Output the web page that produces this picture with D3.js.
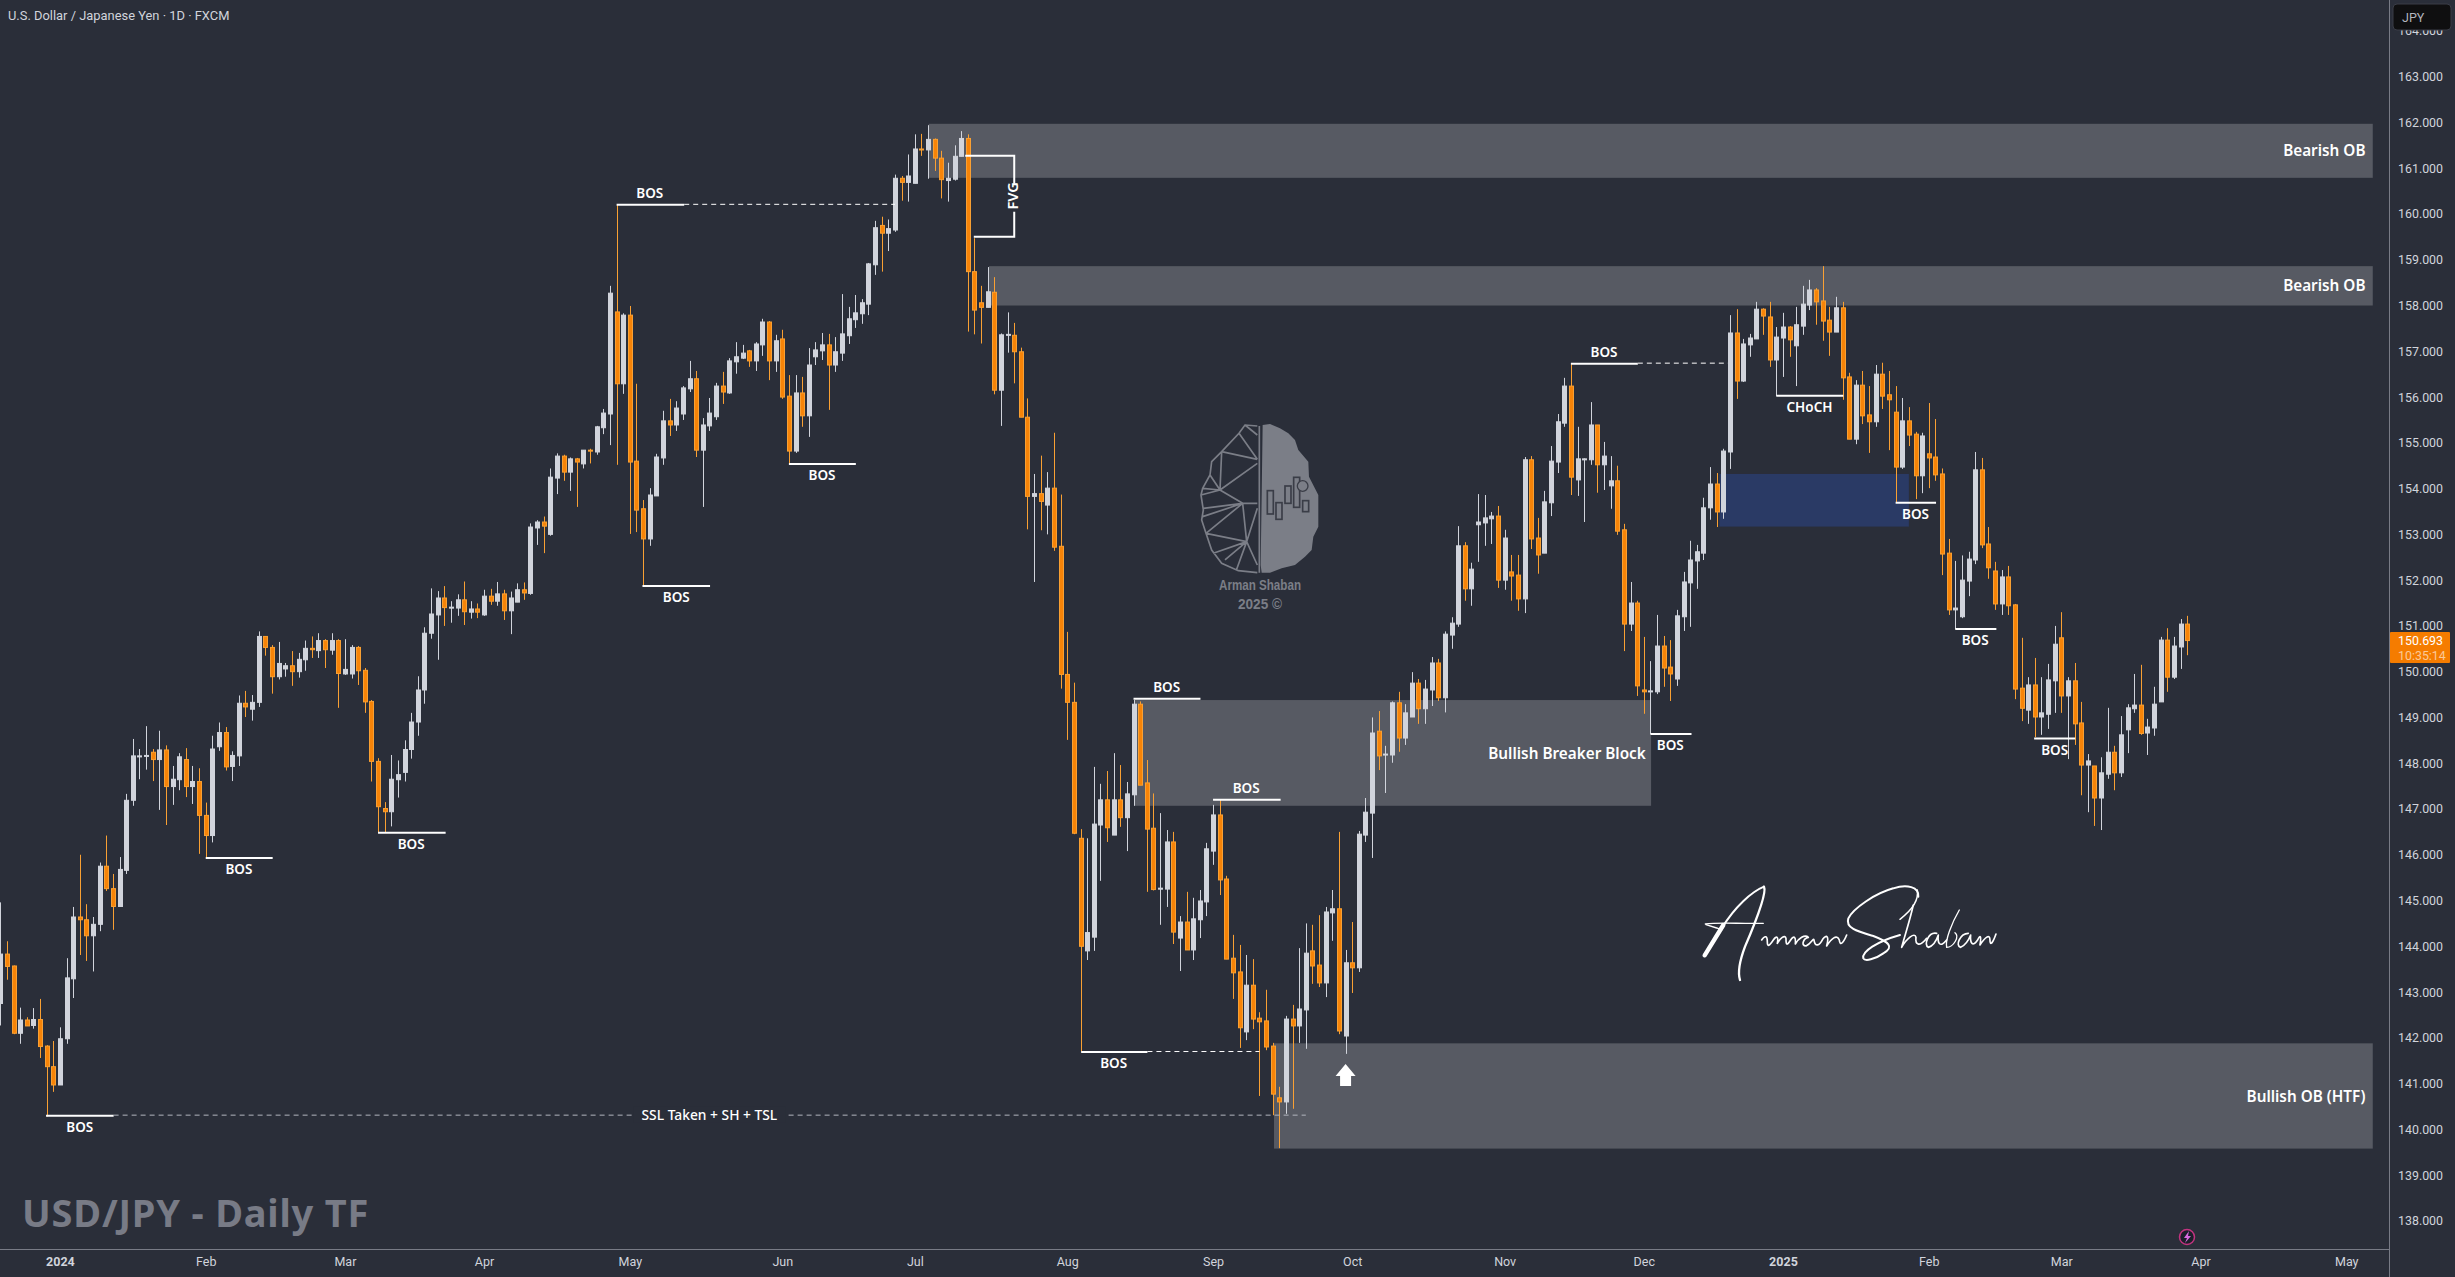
<!DOCTYPE html>
<html>
<head>
<meta charset="utf-8">
<title>USD/JPY - Daily TF</title>
<script src="https://cdn.jsdelivr.net/npm/d3@7"></script>
<style>
html, body { margin: 0; padding: 0; background: #2a2e39; overflow: hidden; }
svg { display: block; }
</style>
</head>
<body>
<div id="chart"></div>
<script>
// daily candles, index 0 is the one cut by the left edge
var opens = [
142.75,143.83,143.57,142.10,142.39,142.27,142.40,141.82,141.37,140.97,
141.98,143.29,144.64,144.58,144.23,144.48,145.75,145.26,144.87,145.66,
147.19,148.14,148.15,148.24,148.08,148.29,147.49,147.64,148.08,147.49,
147.60,146.86,146.42,148.36,148.67,147.93,148.16,149.31,149.18,149.33,
150.77,150.53,149.89,150.06,150.13,150.00,150.26,150.51,150.46,150.68,
150.47,150.68,149.95,149.95,150.53,150.03,149.35,148.04,147.01,146.94,
147.64,147.8,148.3,148.9,149.6,150.84,151.24,151.61,151.40,151.39,
151.57,151.30,151.37,151.24,151.65,151.54,151.70,151.33,151.52,151.79,
151.71,153.14,153.27,153.00,154.23,154.71,154.36,154.65,154.54,154.84,
154.80,155.33,155.63,157.86,156.29,157.79,154.60,153.56,152.90,153.84,
154.67,155.48,155.39,155.63,156.18,156.40,154.84,155.37,155.57,156.24,
156.09,156.77,156.85,157.01,156.79,157.14,157.64,156.79,157.27,156.02,
154.82,156.09,155.59,156.88,157.01,157.14,156.70,156.96,157.34,157.69,
157.82,158.03,158.89,159.75,159.58,159.65,160.78,160.69,160.67,161.42,
161.40,161.63,161.22,160.73,160.76,161.26,161.65,158.74,158.06,157.96,
158.29,156.15,157.35,157.35,156.99,155.56,153.83,153.89,153.64,154.01,
152.74,149.94,149.33,146.36,143.90,144.20,146.65,147.20,146.43,147.20,
146.81,147.31,149.29,147.57,146.58,145.26,145.25,146.28,144.18,144.53,
143.92,144.58,144.97,146.08,146.87,145.47,143.74,143.44,142.13,143.15,
142.43,142.37,141.82,140.69,140.60,142.41,142.26,142.61,143.90,143.59,
143.20,144.73,144.82,142.04,143.64,143.53,146.43,146.91,148.70,148.18,
148.18,149.32,148.55,149.01,149.75,149.19,149.60,150.19,149.43,150.80,
151.04,152.75,151.81,153.21,153.25,153.34,153.40,152.00,152.18,152.11,
151.59,154.63,152.92,152.59,153.69,154.58,155.43,156.24,154.19,154.63,
154.63,155.39,154.52,154.06,154.17,153.10,151.04,151.50,149.60,149.56,
149.56,150.56,150.10,149.84,151.20,151.94,152.42,152.59,153.58,154.10,
153.49,154.80,157.40,156.35,157.14,157.27,157.92,157.75,156.81,157.29,
157.53,157.12,157.55,158.01,158.34,158.10,157.68,157.42,157.95,156.44,
155.08,156.26,155.61,155.46,156.50,156.05,155.67,154.47,155.48,155.19,
154.28,154.76,154.69,154.32,152.59,151.35,151.20,151.98,152.44,154.41,
152.79,152.20,151.48,152.07,151.46,149.64,149.16,149.71,149.01,149.07,
149.80,150.74,149.47,149.80,148.88,147.96,147.94,147.24,147.76,148.24,
147.79,148.73,149.19,149.27,148.66,148.77,149.34,150.69,149.88,150.54,
151.04];

var highs = [
144.96,144.11,143.58,142.66,142.45,142.65,142.85,141.84,141.93,142.23,
143.74,144.86,146.00,144.92,144.64,145.83,146.42,145.58,145.95,147.33,
148.53,148.31,148.81,148.31,148.71,148.39,147.94,148.22,148.33,147.94,
147.89,147.14,148.60,148.89,148.79,148.26,149.48,149.58,149.49,150.88,
150.77,150.58,150.65,150.19,150.45,150.41,150.68,150.77,150.84,150.71,
150.84,150.71,150.71,150.58,150.56,150.08,149.38,148.11,147.15,148.18,
148.06,148.5,149.1,149.9,150.97,151.82,151.76,151.87,151.54,151.69,
151.97,151.54,151.49,151.79,151.81,151.96,151.79,151.75,151.93,151.95,
153.24,153.31,153.39,154.44,154.77,154.74,154.68,154.67,154.84,154.87,
155.37,155.74,158.43,160.20,157.83,157.99,156.29,153.75,154.01,154.76,
155.70,155.96,155.91,156.24,156.79,156.57,155.54,155.98,156.31,156.55,
156.85,157.20,157.14,157.03,157.20,157.71,157.66,157.36,157.47,156.48,
156.48,156.44,157.07,157.20,157.40,157.38,157.31,158.25,157.97,158.23,
158.14,158.93,159.85,159.94,159.88,160.86,160.83,161.30,161.74,161.75,
161.94,161.65,161.38,161.12,161.50,161.81,161.74,159.47,158.43,158.84,
158.62,157.39,157.85,157.62,157.08,155.97,154.32,154.72,154.36,155.22,
153.87,150.87,149.76,146.56,146.36,147.92,147.55,147.83,148.22,147.96,
147.59,149.38,149.35,148.07,147.34,146.91,146.54,146.50,144.66,145.19,
145.06,145.23,146.26,147.09,147.20,145.54,144.25,144.03,143.81,143.72,
142.56,143.05,141.89,140.93,142.48,142.72,143.96,144.50,144.47,144.68,
144.86,145.23,146.50,143.92,144.53,146.52,147.24,149.00,149.14,148.38,
149.35,149.56,149.29,149.99,149.84,149.82,150.32,150.28,150.88,151.19,
153.18,152.83,152.38,153.88,153.86,153.49,153.62,153.10,152.55,152.55,
154.69,154.71,153.36,153.95,154.93,155.63,156.42,156.72,155.35,154.66,
155.89,155.39,155.02,154.71,154.50,153.23,151.96,151.55,150.76,150.23,
151.24,150.78,150.69,151.35,152.18,152.86,152.77,153.80,154.47,154.34,
154.87,157.79,157.92,157.27,157.38,158.08,157.94,158.08,157.53,157.84,
157.55,157.97,158.43,158.56,158.38,158.86,157.97,158.19,158.08,156.53,
156.37,156.57,156.24,156.70,156.75,156.57,156.24,155.98,155.78,155.24,
155.22,155.87,155.52,154.44,152.90,152.42,152.54,152.62,154.80,154.67,
153.16,152.40,152.22,152.31,151.48,150.74,149.88,150.30,149.88,150.17,
151.00,151.30,149.88,150.19,149.34,148.20,147.94,148.13,149.21,148.38,
149.03,149.29,149.95,150.15,148.97,149.67,150.76,150.95,150.76,151.15,
151.22];

var lows = [
142.27,143.27,142.08,141.87,142.26,142.20,141.56,140.28,140.82,140.97,
141.87,142.87,143.81,143.68,143.45,144.33,145.21,144.36,144.87,145.58,
147.07,147.65,147.86,147.61,146.98,146.65,147.09,147.41,147.26,147.11,
146.02,145.92,146.27,148.27,147.84,147.61,147.94,149.01,148.93,149.23,
150.35,149.52,149.83,149.89,149.69,149.87,150.02,150.30,150.30,150.08,
150.37,149.21,149.93,149.85,149.71,149.10,147.60,146.48,146.48,146.62,
147.25,147.6,148.1,148.6,149.3,150.72,150.26,151.00,151.07,151.22,
151.02,151.16,151.17,151.22,151.46,151.44,151.13,150.82,151.52,151.57,
151.68,152.77,152.59,152.97,153.88,154.17,153.95,153.60,154.44,154.55,
154.74,155.19,154.95,154.52,156.07,153.01,153.05,151.87,152.75,153.84,
154.52,155.15,155.26,155.50,156.11,154.69,153.60,155.26,155.50,155.85,
156.07,156.51,156.83,156.66,156.57,156.90,156.37,156.55,155.96,154.54,
154.78,155.35,155.13,156.70,156.81,155.72,156.55,156.79,157.16,157.51,
157.60,157.79,158.67,158.74,159.19,159.61,160.29,160.27,160.67,161.27,
160.77,160.94,160.34,160.27,160.73,161.26,157.43,157.37,157.17,157.96,
156.06,155.37,156.97,156.30,155.56,153.11,151.96,153.09,153.00,152.64,
149.63,148.51,146.45,141.70,143.70,143.90,145.43,146.28,146.43,146.61,
146.08,147.07,147.52,145.19,145.22,144.47,144.86,144.05,143.46,143.92,
143.70,144.18,144.66,145.78,145.12,143.72,142.85,141.78,141.95,142.19,
140.73,141.73,140.31,139.59,140.34,140.45,141.89,141.76,143.18,143.11,
142.89,144.12,142.08,141.65,142.98,143.44,146.28,145.93,147.85,147.35,
148.01,148.25,148.40,149.01,148.86,148.86,149.25,149.36,149.11,150.50,
150.98,151.55,151.44,152.40,152.75,152.79,151.83,151.79,151.55,151.33,
151.28,152.68,152.14,152.59,153.40,154.34,155.35,153.86,153.84,153.27,
154.52,153.91,153.97,153.56,152.99,150.45,150.89,149.47,149.08,148.64,
149.51,149.67,149.36,149.69,150.89,150.98,151.81,152.44,153.32,153.16,
153.34,154.43,155.96,156.33,156.88,157.27,157.36,156.66,156.02,156.44,
156.88,156.24,157.36,157.90,157.58,157.23,156.90,157.42,155.94,155.08,
154.97,155.41,154.78,155.35,155.74,154.84,153.70,154.43,154.93,153.77,
153.90,154.01,154.17,152.11,151.24,150.93,151.17,151.65,152.35,152.70,
152.03,151.35,151.24,151.24,149.40,148.92,148.86,148.57,148.62,148.75,
149.10,149.10,148.09,148.40,147.30,146.93,146.63,146.54,147.66,147.41,
147.70,148.22,149.10,148.62,148.18,148.60,149.34,149.56,149.84,150.06,
150.36];

var closes = [
143.83,143.56,142.10,142.39,142.26,142.40,141.81,141.37,140.97,141.98,
143.31,144.64,144.58,144.23,144.48,145.75,145.26,144.87,145.68,147.19,
148.16,148.16,148.17,148.08,148.29,147.49,147.65,148.14,147.49,147.60,
146.86,146.42,148.31,148.67,147.92,148.17,149.31,149.23,149.33,150.77,
150.53,149.89,150.18,150.13,150.00,150.27,150.51,150.48,150.68,150.48,
150.68,149.96,150.05,150.53,150.02,149.34,148.04,147.05,146.94,147.65,
147.75,148.3,148.9,149.6,150.84,151.26,151.61,151.40,151.41,151.57,
151.31,151.37,151.30,151.65,151.54,151.70,151.33,151.61,151.79,151.72,
153.16,153.27,153.18,154.25,154.71,154.36,154.65,154.58,154.84,154.83,
155.35,155.65,158.27,156.29,157.79,154.58,153.53,152.90,153.86,154.69,
155.48,155.39,155.76,156.20,156.40,154.84,155.39,155.65,156.24,156.11,
156.79,156.88,156.96,156.79,157.16,157.64,156.79,157.23,156.00,154.82,
156.09,155.59,156.70,157.03,157.14,156.70,156.99,157.38,157.71,157.84,
158.06,158.91,159.70,159.58,159.68,160.78,160.69,160.83,161.42,161.40,
161.63,161.22,160.75,160.78,161.26,161.65,158.74,157.90,157.96,158.30,
156.15,157.36,157.37,156.99,155.56,153.83,153.89,153.72,154.01,152.72,
149.94,149.33,146.47,144.00,144.30,146.67,147.20,146.59,147.20,146.81,
147.33,149.29,147.52,146.56,145.24,145.27,146.28,144.31,144.53,143.92,
144.60,144.99,146.13,146.87,145.45,143.72,143.42,142.22,143.15,142.41,
142.35,141.80,140.77,140.60,142.41,142.26,142.63,143.85,143.57,143.20,
144.75,144.82,142.15,143.64,143.53,146.45,146.93,148.66,148.16,148.20,
149.32,148.55,149.10,149.75,149.19,149.62,150.19,149.43,150.82,151.06,
152.75,151.81,152.24,153.27,153.36,153.40,152.00,152.92,152.09,151.59,
154.63,152.90,152.55,153.71,154.60,155.46,156.24,154.25,154.65,154.65,
155.39,154.52,154.71,154.17,153.07,151.04,151.50,149.69,149.56,149.58,
150.56,150.08,149.95,151.22,151.96,152.44,152.62,153.58,154.10,153.49,
154.82,157.40,156.35,157.16,157.29,157.92,157.77,156.81,157.31,157.53,
157.25,157.58,158.03,158.34,158.08,157.66,157.42,157.95,156.42,155.08,
156.26,155.59,155.46,156.50,156.02,155.94,154.47,155.48,155.17,154.28,
155.15,154.67,154.30,152.57,151.35,151.39,152.00,152.46,154.41,152.77,
152.27,151.48,152.07,151.44,149.62,149.20,149.71,149.01,149.10,149.82,
150.60,149.47,149.80,148.86,147.96,148.05,147.24,147.79,148.24,147.79,
148.62,149.21,149.27,148.65,148.79,149.29,150.69,149.88,150.56,151.04,
150.68];

// axis ticks
var priceTicks = d3.range(138, 165);
var timeTickBars = [9,31,52,73,95,118,138,161,183,204,227,248,269,291,311,332,354];
var timeTickLabels = ["2024","Feb","Mar","Apr","May","Jun","Jul","Aug","Sep","Oct","Nov","Dec","2025","Feb","Mar","Apr","May"];

// zones: first bar, last bar, top price, bottom price
var greyZones = [
    [140.1, 358, 161.97, 160.79],
    [149.2, 358, 158.86, 158.00],
    [171.1, 249.1, 149.38, 147.07],
    [192.2, 358, 141.88, 139.58]
];
var blueZone = [259.4, 288, 154.32, 153.17];
var zoneNames = ["Bearish OB", "Bearish OB", "Bullish Breaker Block", "Bullish OB (HTF)"];
var zoneNamePrices = [161.39, 158.44, 148.22, 140.72];
var zoneNameBars = [356.9, 356.9, 248.3, 356.9];

// structure lines: first bar, last bar, price, label, label bar, label side, dash end bar
var structureLines = [
    [6.9, 17.1, 140.30, "BOS", 12, 1, 197],
    [31, 41.1, 145.93, "BOS", 36, 1, null],
    [57, 67.2, 146.48, "BOS", 62, 1, null],
    [96.9, 107.1, 151.87, "BOS", 102, 1, null],
    [119, 129.1, 154.54, "BOS", 124, 1, null],
    [93, 103.2, 160.20, "BOS", 98, -1, 135],
    [171, 181.1, 149.41, "BOS", 176, -1, null],
    [183, 193.2, 147.20, "BOS", 188, -1, null],
    [163.1, 173.1, 141.69, "BOS", 168, 1, 190],
    [237, 247.1, 156.73, "BOS", 242, -1, 260.7],
    [249, 255.2, 148.64, "BOS", 252, 1, null],
    [268, 278.1, 156.03, "CHoCH", 273, 1, null],
    [286, 292.1, 153.69, "BOS", 289, 1, null],
    [295, 301.2, 150.93, "BOS", 298, 1, null],
    [306.9, 313.1, 148.54, "BOS", 310, 1, null]
];

// FVG bracket
var fvgBars = [145.6, 153, 146.9];
var fvgPrices = [161.27, 159.50];
var lastPrice = "150.693";
var countdown = "10:35:14";

var width = 2455, height = 1277;
var plotRight = 2389, plotBottom = 1249;
var labelFont = "'Noto Sans', sans-serif";
var axisFont = "Roboto, sans-serif";
var white = "#ffffff";

var x = d3.scaleLinear().domain([0, 358]).range([0.3, 0.3 + 358 * 6.627]);
var y = d3.scaleLinear().domain([164, 138]).range([30.9, 30.9 + 26 * 45.77]);

var svg = d3.select("#chart").append("svg")
    .attr("width", width)
    .attr("height", height)
    .style("background", "#2a2e39");

svg.append("defs").append("clipPath").attr("id", "plot")
    .append("rect").attr("width", plotRight).attr("height", plotBottom);

var plot = svg.append("g").attr("clip-path", "url(#plot)");

function add_zone(z, color)
{
    plot.append("rect")
        .attr("x", x(z[0]))
        .attr("y", y(z[2]))
        .attr("width", x(z[1]) - x(z[0]))
        .attr("height", y(z[3]) - y(z[2]))
        .attr("fill", color);
}
greyZones.forEach(function (z) { add_zone(z, "#575a63"); });
add_zone(blueZone, "#2a3a65");

var candles = plot.append("g").selectAll("g")
    .data(d3.range(opens.length))
    .enter().append("g");

function is_up(i) { return closes[i] >= opens[i]; }

candles.append("line")
    .attr("x1", function (i) { return Math.round(x(i)) + 0.5; })
    .attr("x2", function (i) { return Math.round(x(i)) + 0.5; })
    .attr("y1", function (i) { return y(highs[i]); })
    .attr("y2", function (i) { return y(lows[i]); })
    .attr("stroke", function (i) { return is_up(i) ? "#d1d4dc" : "#f9a033"; })
    .attr("stroke-width", 1);

candles.append("rect")
    .attr("x", function (i) { return Math.round(x(i)) - 1.5; })
    .attr("width", 4)
    .attr("y", function (i) { return y(Math.max(opens[i], closes[i])); })
    .attr("height", function (i) { return Math.max(1, Math.abs(y(opens[i]) - y(closes[i]))); })
    .attr("fill", function (i) { return is_up(i) ? "#d1d4dc" : "#f78408"; })
    .attr("stroke", function (i) { return is_up(i) ? "#d1d4dc" : "#f9a033"; })
    .attr("stroke-width", 1);

// structure lines and their labels
function add_label(txt, px, py, size, anchor)
{
    return svg.append("text")
        .attr("x", px)
        .attr("y", py)
        .attr("dy", "0.36em")
        .attr("text-anchor", anchor || "middle")
        .attr("font-family", labelFont)
        .attr("font-weight", 600)
        .attr("font-size", size)
        .attr("fill", white)
        .text(txt);
}

structureLines.forEach(function (s) {
    if (s[6] !== null) {
        svg.append("line")
            .attr("x1", x(s[1]))
            .attr("x2", x(s[6]))
            .attr("y1", y(s[2]) - 0.5)
            .attr("y2", y(s[2]) - 0.5)
            .attr("stroke", s[2] < 141 ? "#b2b5be" : white)
            .attr("stroke-width", 1)
            .attr("stroke-dasharray", "5 4");
    }
    svg.append("line")
        .attr("x1", x(s[0]))
        .attr("x2", x(s[1]))
        .attr("y1", y(s[2]))
        .attr("y2", y(s[2]))
        .attr("stroke", white)
        .attr("stroke-width", 2);
    add_label(s[3], x(s[4]), y(s[2]) + s[5] * 11.5, 13.5);
});

// the long liquidity line has its text sitting on it
var sslX = x(107), sslY = y(140.32);
svg.append("rect").attr("x", sslX - 76).attr("y", sslY - 8).attr("width", 152).attr("height", 16).attr("fill", "#2a2e39");
add_label("SSL Taken + SH + TSL", sslX, sslY, 13.8).attr("font-weight", 500);

zoneNames.forEach(function (t, i) {
    add_label(t, x(zoneNameBars[i]), y(zoneNamePrices[i]), 15.3, "end");
});

// FVG bracket
var fvgTop = y(fvgPrices[0]), fvgBottom = y(fvgPrices[1]), fvgRight = x(fvgBars[1]);
svg.append("path")
    .attr("d", d3.line()([[x(fvgBars[0]), fvgTop], [fvgRight, fvgTop], [fvgRight, fvgTop + 28]]))
    .attr("fill", "none").attr("stroke", white).attr("stroke-width", 2);
svg.append("path")
    .attr("d", d3.line()([[fvgRight, fvgBottom - 25], [fvgRight, fvgBottom], [x(fvgBars[2]), fvgBottom]]))
    .attr("fill", "none").attr("stroke", white).attr("stroke-width", 2);
add_label("FVG", 0, 0, 14.5)
    .attr("transform", "translate(" + (fvgRight - 1) + "," + ((fvgTop + fvgBottom) / 2 - 0.5) + ") rotate(-90)");

// arrow under the october low
var arrowX = x(203), arrowY = y(141.43);
svg.append("path")
    .attr("d", d3.line()([[0, 0], [10, 12], [5.5, 12], [5.5, 22], [-5.5, 22], [-5.5, 12], [-10, 12]]) + "Z")
    .attr("transform", "translate(" + arrowX + "," + arrowY + ")")
    .attr("fill", white);

// brain watermark, drawn in its own small frame
var logoColor = "#7b7e87";
var logo = svg.append("g").attr("transform", "translate(1170,400) scale(0.3333)");
logo.append("path")
    .attr("d", "M278,75 L300,72 L330,85 L355,100 L375,120 L385,150 L415,185 L417,230 L445,285 L445,380 L430,410 L425,450 L405,470 L375,495 L335,505 L300,518 L275,518 L272,495 Z")
    .attr("fill", logoColor);
logo.append("path")
    .attr("d", "M268,78 L268,518 M262,78 L225,75 L207,100 L155,155 L125,185 L120,225 L98,265 L93,285 L100,330 L95,360 L108,400 L125,450 L155,490 L205,512 L262,518 M225,75 L262,105 M207,100 L262,178 M155,155 L262,178 M155,155 L150,270 M150,270 L262,190 M150,270 L218,310 M120,225 L150,270 M98,265 L150,270 M93,285 L150,270 M218,310 L262,310 M218,310 L100,325 M218,310 L98,350 M218,310 L108,400 M218,310 L230,425 M262,325 L230,425 M108,400 L230,425 M230,425 L130,460 M230,425 L165,480 M230,425 L200,508 M230,425 L262,495")
    .attr("fill", "none").attr("stroke", logoColor).attr("stroke-width", 5);
logo.selectAll("rect.c")
    .data([[292,272,18,70],[318,308,18,50],[345,258,18,52],[371,232,18,90],[398,302,18,33]])
    .enter().append("rect")
    .attr("x", function (d) { return d[0]; })
    .attr("y", function (d) { return d[1]; })
    .attr("width", function (d) { return d[2]; })
    .attr("height", function (d) { return d[3]; })
    .attr("fill", "none").attr("stroke", "#3a3d47").attr("stroke-width", 5);
logo.append("circle").attr("cx", 398).attr("cy", 258).attr("r", 16)
    .attr("fill", logoColor).attr("stroke", "#3a3d47").attr("stroke-width", 4);

svg.append("text").attr("x", 1260).attr("y", 590)
    .attr("text-anchor", "middle").attr("font-family", "'Liberation Sans Narrow', 'Liberation Sans', sans-serif")
    .attr("font-weight", 700).attr("font-size", 14).attr("fill", logoColor)
    .attr("textLength", 82).attr("lengthAdjust", "spacingAndGlyphs")
    .text("Arman Shaban");
svg.append("text").attr("x", 1260).attr("y", 609)
    .attr("text-anchor", "middle").attr("font-family", "'Liberation Sans Narrow', 'Liberation Sans', sans-serif")
    .attr("font-weight", 700).attr("font-size", 14).attr("fill", logoColor)
    .attr("textLength", 44).attr("lengthAdjust", "spacingAndGlyphs")
    .text("2025 ©");

// handwritten signature, drawn in its own small frame
var signature = svg.append("g")
    .attr("transform", "translate(1680,860) scale(0.3333)")
    .attr("fill", "none").attr("stroke", white).attr("stroke-linecap", "round").attr("stroke-linejoin", "round");
var signatureStrokes = [
    ["M74,286 L130,195", 13],
    ["M125,205 C165,140 215,95 252,80", 6],
    ["M252,80 C262,100 225,190 195,260 C180,300 172,335 180,360", 7],
    ["M76,192 C120,186 180,192 250,190", 4],
    ["M78,194 L110,204 L125,210", 4],
    ["M245,240 C255,225 262,228 262,245 C262,262 268,258 280,240 C290,225 296,230 292,250 C300,235 315,222 318,235 C318,250 318,262 332,240 C342,225 348,230 346,252 C355,235 375,222 385,232 C370,235 362,258 378,258 C395,250 400,232 402,240 C405,262 418,258 428,238 C440,222 448,228 440,258 C455,235 470,222 478,240 C480,262 492,245 500,225", 5],
    ["M715,110 C718,80 680,72 640,85 C585,100 520,145 505,175 C495,205 535,215 580,228 C625,245 645,260 610,280 C585,298 555,305 550,295 C545,275 590,245 660,225", 6],
    ["M660,178 C690,155 718,125 712,90", 4.5],
    ["M700,135 C690,180 675,225 665,262 C680,235 705,215 708,232 C705,255 720,262 740,235", 5],
    ["M770,220 C745,215 730,255 745,262 C760,258 770,240 775,225 C772,250 780,265 800,240", 5],
    ["M838,150 C815,190 795,240 800,262 C820,262 840,230 825,218", 4],
    ["M865,220 C840,220 825,258 842,262 C858,255 868,235 872,225 C870,250 878,262 893,240 C900,225 905,225 900,255 C915,232 930,220 930,240 C930,262 940,245 948,222", 5]
];
signatureStrokes.forEach(function (s) {
    signature.append("path").attr("d", s[0]).attr("stroke-width", s[1]);
});

// big title bottom left
svg.append("text")
    .attr("x", 22).attr("y", 1227)
    .attr("font-family", labelFont)
    .attr("font-weight", 700)
    .attr("font-size", 38)
    .attr("letter-spacing", 0.8)
    .attr("fill", "#787b86")
    .text("USD/JPY - Daily TF");

// symbol line at the top
svg.append("text")
    .attr("x", 8).attr("y", 20)
    .attr("font-family", axisFont)
    .attr("font-size", 12.9)
    .attr("fill", "#d1d4dc")
    .text("U.S. Dollar / Japanese Yen · 1D · FXCM");

// axes
var yAxis = svg.append("g")
    .attr("transform", "translate(" + plotRight + ",0)")
    .call(d3.axisRight(y).tickValues(priceTicks).tickFormat(d3.format(".3f")).tickSize(0).tickPadding(9));
var xAxis = svg.append("g")
    .attr("transform", "translate(0," + plotBottom + ")")
    .call(d3.axisBottom(x).tickValues(timeTickBars).tickFormat(function (d, i) { return timeTickLabels[i]; }).tickSize(0).tickPadding(8));

[yAxis, xAxis].forEach(function (a) {
    a.select(".domain").remove();
    a.selectAll("text")
        .attr("font-family", axisFont)
        .attr("font-size", 12.4)
        .attr("fill", "#d1d4dc");
});
xAxis.selectAll("text")
    .attr("font-weight", function (d, i) { return timeTickLabels[i].length === 4 ? 700 : 400; })
    .attr("font-size", 12.5);

svg.append("line").attr("x1", plotRight + 0.5).attr("x2", plotRight + 0.5).attr("y1", 0).attr("y2", height).attr("stroke", "#787b86");
svg.append("line").attr("x1", 0).attr("x2", plotRight).attr("y1", plotBottom + 0.5).attr("y2", plotBottom + 0.5).attr("stroke", "#787b86");

// currency button, covers the top tick
svg.append("rect").attr("x", 2393).attr("y", 4).attr("width", 58).attr("height", 26).attr("rx", 4)
    .attr("fill", "#0f0f10").attr("stroke", "#3a3d47");
svg.append("text").attr("x", 2402).attr("y", 22)
    .attr("font-family", axisFont).attr("font-size", 12.5).attr("fill", "#b2b5be").text("JPY");

// last price tag
svg.append("rect").attr("x", plotRight + 1).attr("y", 632).attr("width", 60).attr("height", 31).attr("rx", 1).attr("fill", "#f57c00");
svg.append("text").attr("x", 2398).attr("y", 645)
    .attr("font-family", axisFont).attr("font-size", 12.4).attr("fill", white).text(lastPrice);
svg.append("text").attr("x", 2398).attr("y", 660)
    .attr("font-family", axisFont).attr("font-size", 12.4).attr("fill", white).attr("fill-opacity", 0.6).text(countdown);

// small icon above the time axis
svg.append("circle").attr("cx", 2187).attr("cy", 1237).attr("r", 7.5).attr("fill", "#1c1f2a").attr("stroke", "#c2337f").attr("stroke-width", 1.5);
svg.append("path").attr("d", "M2189,1231 L2184,1238 L2187,1238 L2185,1243 L2191,1236 L2188,1236 Z").attr("fill", "#d86adf");
</script>
</body>
</html>
